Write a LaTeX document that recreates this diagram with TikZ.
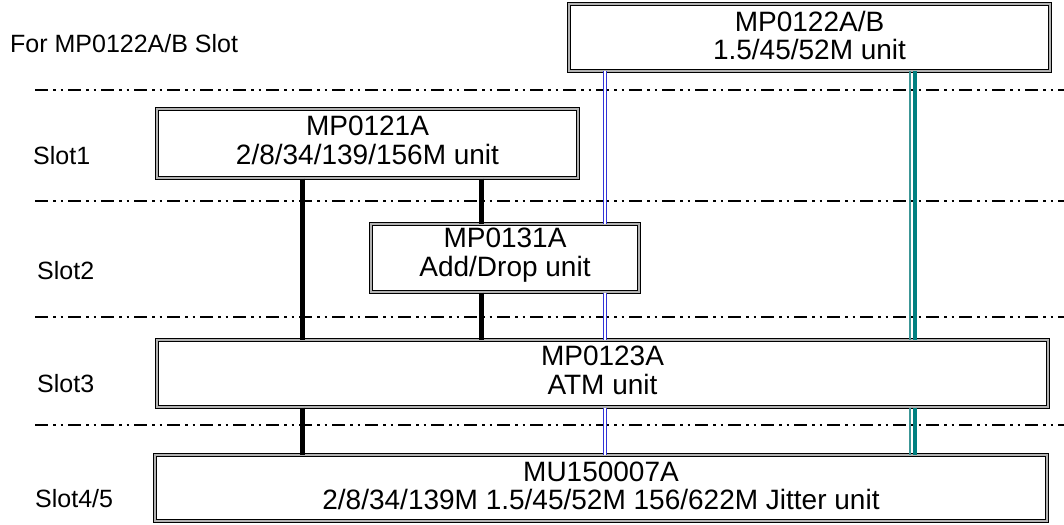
\documentclass[tikz,border=0pt]{standalone}
\usepackage{fontspec}
\setmainfont{Liberation Sans}
\definecolor{linkblue}{RGB}{50,50,215}
\definecolor{tealA}{RGB}{0,128,128}
\definecolor{tealB}{RGB}{60,150,150}
\tikzset{
  unit/.style={draw=black, line width=1pt, double=black!30, double distance=1.6pt,
    fill=white, inner sep=0pt, align=center,
    font=\fontsize{28}{28.5}\selectfont},
  unittext/.style={align=center, inner sep=0pt, font=\fontsize{28}{28.5}\selectfont},
  slotlabel/.style={anchor=base west, inner sep=0pt, font=\fontsize{25}{28}\selectfont},
  slotline/.style={line width=1.6pt, dash pattern=on 13pt off 5pt on 2.5pt off 5pt on 2.5pt off 5pt},
  blackbus/.style={line width=5pt, black},
  bluebus/.style={draw=linkblue, line width=1.3pt, double=white, double distance=1.8pt},
  tealthin/.style={draw=tealB, line width=1.3pt},
  tealthick/.style={draw=tealA, line width=4.5pt}
}
\begin{document}
\begin{tikzpicture}[x=1pt, y=-1pt]
\useasboundingbox (0,0) rectangle (1064,524);
% slot separators
\coordinate (L1) at (35,90);   \coordinate (R1) at (1064,90);
\coordinate (L2) at (35,201);  \coordinate (R2) at (1064,201);
\coordinate (L3) at (35,317);  \coordinate (R3) at (1064,317);
\coordinate (L4) at (35,425);  \coordinate (R4) at (1064,425);
\draw[slotline] (L1) -- (R1);
\draw[slotline] (L2) -- (R2);
\draw[slotline] (L3) -- (R3);
\draw[slotline] (L4) -- (R4);
% labels
\node[slotlabel] (lab0) at (10,53) {For MP0122A/B Slot};
\node[slotlabel] (lab1) at (33,164) {Slot1};
\node[slotlabel] (lab2) at (37,279) {Slot2};
\node[slotlabel] (lab3) at (37,392) {Slot3};
\node[slotlabel] (lab4) at (35,507) {Slot4/5};
% units
\node[unit, minimum width=481pt, minimum height=67pt] (B122) at (809.5,37.5) {};
\node[unit, minimum width=421pt, minimum height=69pt] (B121) at (367.5,143.5) {};
\node[unit, minimum width=268pt, minimum height=68pt] (B131) at (505,258) {};
\node[unit, minimum width=891pt, minimum height=67pt] (B123) at (602.5,373.5) {};
\node[unit, minimum width=892pt, minimum height=66pt] (B150) at (601,488) {};
\node[unittext] (T122) at ([yshift=2pt]B122.center) {MP0122A/B\\1.5/45/52M unit};
\node[unittext] (T121) at ([yshift=3pt]B121.center) {MP0121A\\2/8/34/139/156M unit};
\node[unittext] (T131) at ([yshift=3pt]B131.center) {MP0131A\\Add/Drop unit};
\node[unittext] (T123) at ([yshift=3pt]B123.center) {MP0123A\\ATM unit};
\node[unittext] (T150) at ([yshift=2pt]B150.center) {MU150007A\\2/8/34/139M 1.5/45/52M 156/622M Jitter unit};
% bus positions
\coordinate (xa) at (302,0);
\coordinate (xb) at (481,0);
\coordinate (xc) at (605,0);
\coordinate (xd) at (910,0);
\coordinate (xe) at (915,0);
% black buses
\draw[blackbus] (B121.south -| xa) -- (B123.north -| xa);
\draw[blackbus] (B123.south -| xa) -- (B150.north -| xa);
\draw[blackbus] (B121.south -| xb) -- (B131.north -| xb);
\draw[blackbus] (B131.south -| xb) -- (B123.north -| xb);
% blue bus
\draw[bluebus] (B122.south -| xc) -- (B131.north -| xc);
\draw[bluebus] (B131.south -| xc) -- (B123.north -| xc);
\draw[bluebus] (B123.south -| xc) -- (B150.north -| xc);
% teal bus
\draw[tealthin] (B122.south -| xd) -- (B123.north -| xd);
\draw[tealthick] (B122.south -| xe) -- (B123.north -| xe);
\draw[tealthin] (B123.south -| xd) -- (B150.north -| xd);
\draw[tealthick] (B123.south -| xe) -- (B150.north -| xe);
\end{tikzpicture}
\end{document}
